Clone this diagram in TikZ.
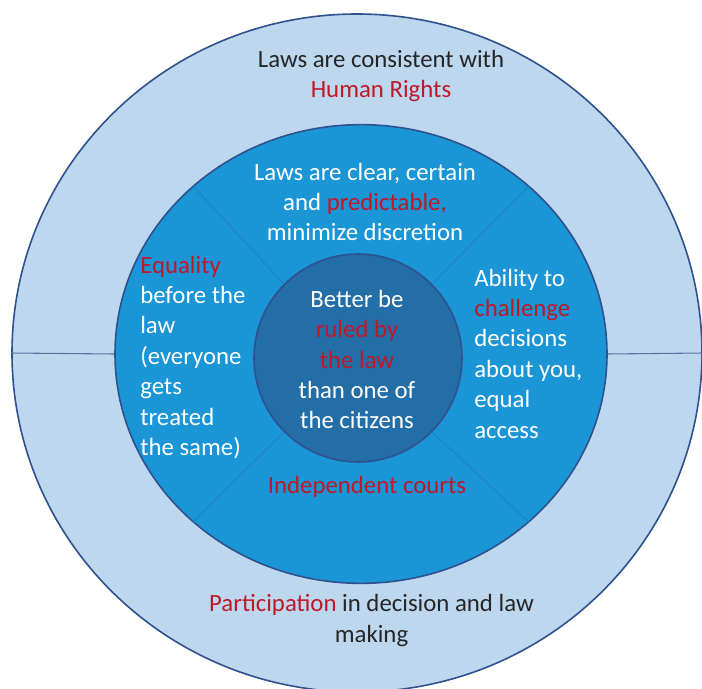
\documentclass[tikz,border=0pt]{standalone}
\usepackage{fontspec}
\setmainfont{Carlito}
\usepackage{xcolor}
\usepackage{tikz}
\usetikzlibrary{shapes.geometric}
\definecolor{pale-blue}{RGB}{189,215,238}
\definecolor{mid-blue}{RGB}{26,149,214}
\definecolor{deep-blue}{RGB}{36,110,168}
\definecolor{rim-blue}{RGB}{47,82,143}
\definecolor{law-red}{RGB}{192,24,40}
\newcommand{\hl}[1]{\textcolor{law-red}{#1}}

\begin{document}
\begin{tikzpicture}
      [x=0.75pt, y=-0.75pt, ring/.style = {shape=ellipse,
        draw=rim-blue, line width=1.2pt, inner sep=0pt}, spoke/.style
      = {draw=rim-blue!30!mid-blue, line width=0.6pt}, rule/.style =
      {draw=rim-blue!80, line width=0.8pt}, say/.style =
      {font=\fontsize{18.6}{22.8}\selectfont, inner sep=0pt, text=white}]

      \fill [white] (0,0) rectangle (702,688);
      \useasboundingbox (0,0) rectangle (702,688);
      \clip (0,0) rectangle (702,688);

      \node [ring, fill=pale-blue, minimum width=517.5pt,
      minimum height=508.5pt] (Outer) at (357,353) {};
      \node [ring, fill=mid-blue, minimum width=369pt,
      minimum height=344pt] (Middle) at (361,354) {};
      \node [ring, fill=deep-blue, minimum size=156pt] (Inner) at
      (358,358) {};

      \foreach \a in {45,135,225,315}
        \draw [spoke] (Inner.\a) -- (Middle.\a);
      \draw [rule] (Outer.west) -- (Middle.west);
      \draw [rule] (Middle.east) -- (Outer.east);

      \node [say, text=black!85, align=center] (Consistent) at (381,76)
      {Laws are consistent with\\ \hl{Human Rights}};
      \node [say, align=center] (Clear) at (365,202)
      {Laws are clear, certain\\ and \hl{predictable,}\\ minimize discretion};
      \node [say, align=left, anchor=west] (Equality) at (140,357.5)
      {\hl{Equality}\\ before the\\ law\\ (everyone\\ gets\\ treated\\ the same)};
      \node [say, align=center] (Ruled) at (357,359.5)
      {Better be\\ \hl{ruled by}\\ \hl{the law}\\ than one of\\ the citizens};
      \node [say, align=left, anchor=west] (Challenge) at (474,353.5)
      {Ability to\\ \hl{challenge}\\ decisions\\ about you,\\ equal\\ access};
      \node [say, text=law-red] (Courts) at (367,487) {Independent courts};
      \node [say, text=black!85, align=center] (Participation) at
      (371.5,620.5) {\hl{Participation} in decision and law\\ making};
    \end{tikzpicture}
\end{document}
